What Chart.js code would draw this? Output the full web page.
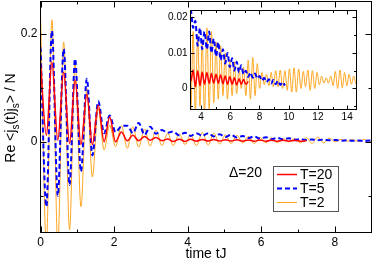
<!DOCTYPE html>
<html><head><meta charset="utf-8">
<script src="https://cdn.jsdelivr.net/npm/chart.js@4"></script>
<style>
html,body{margin:0;padding:0;background:#fff;}
#wrap{position:relative;width:374px;height:261px;overflow:hidden;}
#main{position:absolute;left:0;top:0;}
#inset{position:absolute;left:150px;top:0;}
</style></head><body>
<div id="wrap"><canvas id="main" width="374" height="261"></canvas><canvas id="inset" width="215" height="130"></canvas></div>
<script>
// time grid (tJ)
const times = [0,0.16,0.31,0.47,0.63,0.79,0.94,1.10,1.26,1.41,
1.57,1.73,1.88,2.04,2.20,2.36,2.51,2.67,2.83,2.98,
3.14,3.30,3.46,3.61,3.77,3.93,4.08,4.24,4.40,4.56,
4.71,4.87,5.03,5.18,5.34,5.50,5.65,5.81,5.97,6.13,
6.28,6.44,6.60,6.75,6.91,7.07,7.23,7.38,7.54,7.70,
7.85,8.01,8.17,8.33,8.48,8.64,8.80,8.95,9.11,9.27,
9.42,9.58,9.74,9.90,10.05,10.21,10.37,10.52,10.68,10.84,
11.00,11.15,11.31,11.47,11.62,11.78,11.94,12.10,12.25,12.41,
12.57,12.72,12.88,13.04,13.19,13.35,13.51,13.67,13.82,13.98,
14.14,14.29,14.45,14.61,14.77];
// T=20
const seriesT20 = [0.145,0.012,0.148,0.003,0.129,-0.003,0.114,-0.005,0.088,-0.005,
0.068,0.000,0.046,0.000,0.018,0.002,0.012,0.002,0.010,0.003,
0.008,0.002,0.0052,0.0005,0.0050,0.0008,0.0046,0.0012,0.0045,0.0014,
0.0042,0.0015,0.0040,0.0015,0.0038,0.0013,0.0035,0.0012,0.0033,0.0012,
0.0030,0.0010,0.0027,0.0012,0.0025,0.0012,0.0020];
// T=5
const seriesT5 = [0.175,-0.12,0.206,-0.10,0.172,-0.08,0.154,-0.055,0.117,-0.025,
0.075,0.016,0.049,0.018,0.029,0.030,0.016,0.035,0.013,0.028,
0.015,0.022,0.017,0.019,0.012,0.017,0.011,0.016,0.011,0.016,
0.010,0.014,0.009,0.013,0.008,0.011,0.007,0.010,0.006,0.0085,
0.005,0.0075,0.0045,0.0065,0.0040,0.0050,0.0032,0.0045,0.0030,0.0042,
0.0028,0.0035,0.0022,0.0030,0.0018,0.0026,0.0014,0.0024,0.0012,0.0022,
0.0010,0.0018,0.0008];
// T=2
const seriesT2 = [0.24,-0.19,0.226,-0.19,0.185,-0.163,0.146,-0.12,0.099,-0.065,
0.062,-0.015,0.031,-0.009,0.030,-0.012,0.028,-0.010,0.024,-0.008,
0.022,-0.007,0.016,-0.007,0.015,-0.005,0.013,-0.007,0.017,-0.006,
0.016,-0.004,0.013,-0.003,0.012,-0.002,0.010,-0.003,0.008,-0.002,
0.0075,-0.0015,0.006,0.000,0.006,-0.002,0.008,-0.003,0.0087,-0.002,
0.007,0.000,0.0045,0.001,0.0040,0.0008,0.0045,0.0005,0.0050,0.0005,
0.0052,0.000,0.0050,-0.0005,0.0055,-0.001,0.0058,-0.001,0.0055,0.000,
0.0048,0.0005,0.0052,-0.0005,0.0050,0.000,0.0045,0.0010,0.0035,0.0015,
0.0030,0.0015,0.0035,0.0008,0.0048,0.000,0.0052,0.0002,0.0045,0.0008,
0.0040,0.0012,0.0035,0.0012,0.0030];
const seriesNames = ['T=20','T=5','T=2'];
const mainXTicks = [0,2,4,6,8], mainXMinor = [1,3,5,7];
const mainYTicks = [0,0.2], mainYMinor = [-0.1,0.1];
const insetXTicks = [4,6,8,10,12,14], insetXMinor = [5,7,9,11,13];
const insetYTicks = [0,0.01,0.02], insetYMinor = [-0.005,0.005,0.015];
const annotationText = 'Δ=20';
const xTitle = 'time tJ';

const FONT = "'Liberation Sans', Arial, sans-serif";
function pts(vals){ return times.slice(0, vals.length).map((t,i)=>({x:t,y:vals[i]})); }
function makeDatasets(){
  return [
    {label:seriesNames[0], data:pts(seriesT20), borderColor:'#ff0000', borderWidth:1.5, order:0},
    {label:seriesNames[1], data:pts(seriesT5), borderColor:'#0000ff', borderWidth:2, borderDash:[5,3], order:1},
    {label:seriesNames[2], data:pts(seriesT2), borderColor:'#ffa620', borderWidth:1, order:2}
  ].map(d=>Object.assign(d,{pointRadius:0, fill:false, cubicInterpolationMode:'monotone'}));
}
function framePlugin(xMaj,xMin,yMaj,yMin,majLen,minLen,whiteBg){
  return {
    id:'frame',
    beforeDatasetsDraw(chart){
      if(!whiteBg) return;
      const a=chart.chartArea, c=chart.ctx;
      c.save(); c.fillStyle='#fff'; c.fillRect(a.left,a.top,a.right-a.left,a.bottom-a.top); c.restore();
    },
    afterDatasetsDraw(chart){
      const a=chart.chartArea, c=chart.ctx, xs=chart.scales.x, ys=chart.scales.y;
      c.save(); c.strokeStyle='#000'; c.lineWidth=1;
      c.strokeRect(a.left,a.top,a.right-a.left,a.bottom-a.top);
      c.beginPath();
      const xt=(v,L)=>{const p=Math.round(xs.getPixelForValue(v))+0.5; c.moveTo(p,a.bottom); c.lineTo(p,a.bottom-L); c.moveTo(p,a.top); c.lineTo(p,a.top+L);};
      const yt=(v,L)=>{const p=Math.round(ys.getPixelForValue(v))+0.5; c.moveTo(a.left,p); c.lineTo(a.left+L,p); c.moveTo(a.right,p); c.lineTo(a.right-L,p);};
      xMaj.forEach(v=>xt(v,majLen)); xMin.forEach(v=>xt(v,minLen));
      yMaj.forEach(v=>yt(v,majLen)); yMin.forEach(v=>yt(v,minLen));
      c.stroke(); c.restore();
    }
  };
}
const decor = {
  id:'decor',
  afterDraw(chart){
    const c=chart.ctx, a=chart.chartArea;
    c.save();
    c.fillStyle='#000'; c.font='14px '+FONT; c.textAlign='center'; c.textBaseline='alphabetic';
    c.fillText(xTitle,(a.left+a.right)/2,258);
    const segs=[['Re <j',0],['s',1],['(t)j',0],['s',1],['> / N',0]];
    c.save(); c.translate(15,118); c.rotate(-Math.PI/2); c.textAlign='left';
    let total=0;
    segs.forEach(s=>{c.font=(s[1]?'10px ':'14px ')+FONT; total+=c.measureText(s[0]).width;});
    let x=-total/2;
    segs.forEach(s=>{c.font=(s[1]?'10px ':'14px ')+FONT; c.fillText(s[0],x,s[1]?3.5:0); x+=c.measureText(s[0]).width;});
    c.restore();
    c.font='14px '+FONT; c.textAlign='left'; c.textBaseline='middle';
    c.fillText(annotationText,229,173);
    c.strokeStyle='#555'; c.lineWidth=1; c.strokeRect(273.5,166.5,65,45);
    chart.data.datasets.forEach((d,i)=>{
      const y=174+i*14;
      c.save(); c.strokeStyle=d.borderColor; c.lineWidth=d.borderWidth; c.setLineDash(d.borderDash||[]);
      c.beginPath(); c.moveTo(277,y+0.5); c.lineTo(297,y+0.5); c.stroke(); c.restore();
      c.fillStyle='#000'; c.fillText(d.label,300,y+1);
    });
    c.restore();
  }
};
function axisOpts(min,max,ticks,fontSize,pad,fit){
  return {type:'linear', min, max, grid:{display:false, drawTicks:false}, border:{display:false},
    afterBuildTicks:s=>{s.ticks=ticks.map(v=>({value:v}));},
    afterFit:s=>{fit(s); s.paddingTop=0; s.paddingBottom=0; s.paddingLeft=0; s.paddingRight=0;},
    ticks:{padding:pad, color:'#000', font:{family:FONT,size:fontSize}, callback:v=>String(v), maxRotation:0, autoSkip:false}};
}
Chart.defaults.animation=false;
new Chart(document.getElementById('main'),{
  type:'line',
  data:{datasets:makeDatasets()},
  options:{responsive:false, devicePixelRatio:1, animation:false,
    layout:{padding:{top:1.5,right:2.5,left:0,bottom:0}},
    plugins:{legend:{display:false}, tooltip:{enabled:false}},
    scales:{
      x:axisOpts(0,9,mainXTicks,12,3,s=>{s.height=28.5;}),
      y:axisOpts(-0.168,0.26,mainYTicks,12,3,s=>{s.width=40.5;})
    }},
  plugins:[framePlugin(mainXTicks,mainXMinor,mainYTicks,mainYMinor,6,3,false),decor]
});
new Chart(document.getElementById('inset'),{
  type:'line',
  data:{datasets:makeDatasets()},
  options:{responsive:false, devicePixelRatio:1, animation:false,
    layout:{padding:{top:10.5,right:8.5,left:0,bottom:0}},
    plugins:{legend:{display:false}, tooltip:{enabled:false}},
    scales:{
      x:axisOpts(3.28,14.64,insetXTicks,10,2,s=>{s.height=20.5;}),
      y:axisOpts(-0.0059,0.0219,insetYTicks,10,3,s=>{s.width=40.5;})
    }},
  plugins:[framePlugin(insetXTicks,insetXMinor,insetYTicks,insetYMinor,4,2.5,true)]
});
</script>
</body></html>
